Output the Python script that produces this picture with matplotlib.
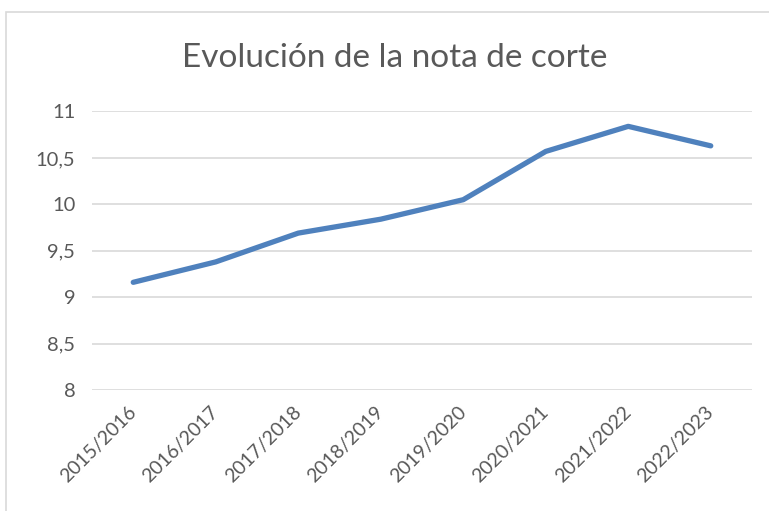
import matplotlib
matplotlib.use("Agg")
import matplotlib.pyplot as plt
from matplotlib.patches import Rectangle

# Data
cursos = ['2015/2016', '2016/2017', '2017/2018', '2018/2019',
          '2019/2020', '2020/2021', '2021/2022', '2022/2023']
nota_corte = [9.16, 9.38, 9.69, 9.84, 10.05, 10.57, 10.84, 10.63]
yticks = [8, 8.5, 9, 9.5, 10, 10.5, 11]
ytick_labels = ['8', '8,5', '9', '9,5', '10', '10,5', '11']
titulo = 'Evolución de la nota de corte'

plt.rcParams['font.family'] = ['Lato', 'DejaVu Sans']
gris = '#595959'

fig = plt.figure(figsize=(7.69, 5.11), dpi=100)

# Chart border (Excel chart area)
fig.patches.append(Rectangle((6 / 769, -0.1), 1.2, 1 - 12 / 511 + 0.1,
                             transform=fig.transFigure, fill=False,
                             edgecolor='#D9D9D9', linewidth=1.2))

ax = fig.add_axes([92 / 769, 1 - 390 / 511, 660 / 769, (390 - 111.5) / 511])

x = range(len(cursos))
ax.plot(x, nota_corte, color='#4F81BD', linewidth=3.8,
        solid_capstyle='round', solid_joinstyle='round', zorder=3)

ax.set_xlim(-0.5, len(cursos) - 0.5)
ax.set_ylim(8, 11)
ax.set_yticks(yticks)
ax.set_yticklabels(ytick_labels, fontsize=14.5, color=gris)
ax.set_xticks(list(x))
ax.set_xticklabels(cursos, fontsize=14, color=gris, rotation=45,
                   ha='right', va='center', rotation_mode='anchor')

ax.grid(axis='y', color='#D9D9D9', linewidth=1.2)
ax.set_axisbelow(True)
ax.tick_params(axis='both', length=0)
ax.tick_params(axis='y', pad=12)
ax.tick_params(axis='x', pad=14)
for s in ax.spines.values():
    s.set_visible(False)

fig.text(395 / 769, 1 - 58 / 511, titulo, ha='center', va='center',
         fontsize=24, color=gris, fontweight='normal')

fig.savefig('out.png', dpi=100)
